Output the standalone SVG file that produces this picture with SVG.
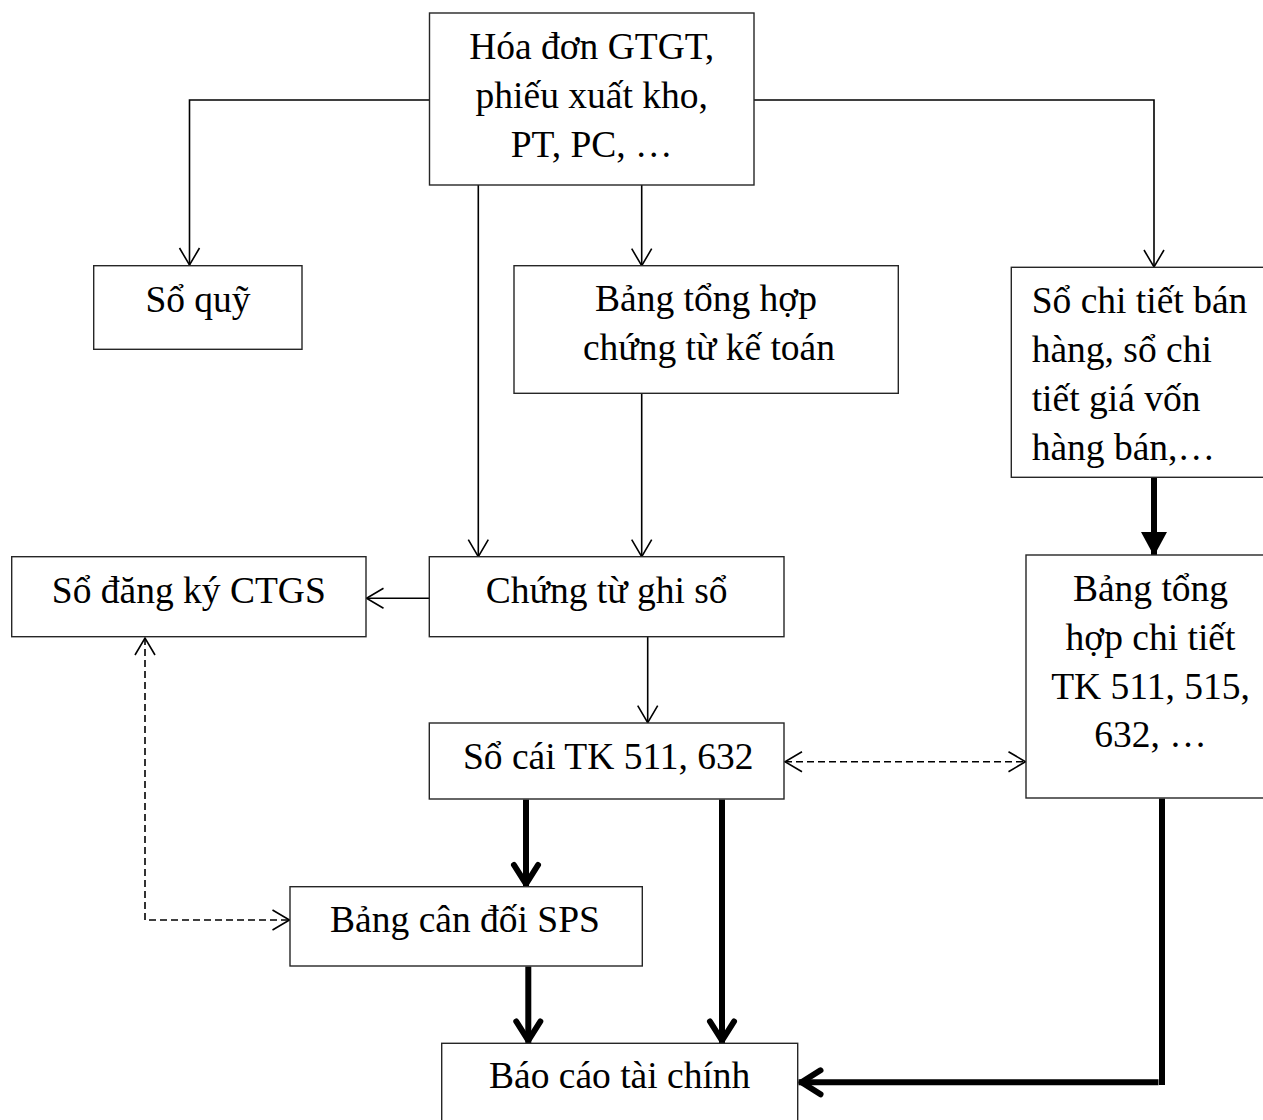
<svg xmlns="http://www.w3.org/2000/svg" width="1263" height="1120" viewBox="0 0 1263 1120">
  <style>
    .box { fill: #ffffff; stroke: #262626; stroke-width: 1.4; }
    .t { font-family: "Liberation Serif", "Times New Roman", serif; font-size: 37.5px; fill: #000000; }
    .c { text-anchor: middle; }
    .thin { fill: none; stroke: #000000; stroke-width: 1.6; }
    .dash { fill: none; stroke: #000000; stroke-width: 1.6; stroke-dasharray: 7 4; }
    .thick { fill: none; stroke: #000000; stroke-width: 6; }
  </style>
  <defs>
    <marker id="open" markerUnits="userSpaceOnUse" markerWidth="24" markerHeight="24" viewBox="-20 -12 24 24" refX="0" refY="0" orient="auto-start-reverse">
      <path d="M-17,-10 L0,0 L-17,10" fill="none" stroke="#000000" stroke-width="1.6"/>
    </marker>
    <marker id="bold" markerUnits="userSpaceOnUse" markerWidth="40" markerHeight="40" viewBox="-30 -20 40 40" refX="0" refY="0" orient="auto">
      <path d="M-22,-12 L-3,0 L-22,12" fill="none" stroke="#000000" stroke-width="6" stroke-linecap="round" stroke-linejoin="round"/>
    </marker>
    <marker id="solid" markerUnits="userSpaceOnUse" markerWidth="40" markerHeight="40" viewBox="-30 -20 40 40" refX="0" refY="0" orient="auto">
      <path d="M-24,-13 L0,0 L-24,13 Z" fill="#000000" stroke="none"/>
    </marker>
  </defs>

  <!-- connectors -->
  <g id="connectors">
    <path class="thin" d="M429.5,100 H189.5 V265" marker-end="url(#open)"/>
    <path class="thin" d="M754,100 H1154 V267" marker-end="url(#open)"/>
    <path class="thin" d="M478.3,185 V556.7" marker-end="url(#open)"/>
    <path class="thin" d="M641.7,185 V265.7" marker-end="url(#open)"/>
    <path class="thin" d="M641.7,393.3 V556.7" marker-end="url(#open)"/>
    <path class="thin" d="M429.3,598.3 H366.5" marker-end="url(#open)"/>
    <path class="thin" d="M647.7,636.7 V722.7" marker-end="url(#open)"/>
    <path class="dash" d="M785,761.7 H1025.5" marker-start="url(#open)" marker-end="url(#open)"/>
    <path class="dash" d="M145,638 V920 H289.5" marker-start="url(#open)" marker-end="url(#open)"/>
    <path class="thick" d="M1154,477.5 V556" marker-end="url(#solid)"/>
    <path class="thick" d="M526,799.5 V887" marker-end="url(#bold)"/>
    <path class="thick" d="M528.3,966.5 V1043.5" marker-end="url(#bold)"/>
    <path class="thick" d="M722,799.5 V1043.5" marker-end="url(#bold)"/>
    <path class="thick" d="M1162,798.5 V1085"/>
    <path class="thick" d="M1158.5,1082.3 H798.5" marker-end="url(#bold)"/>
  </g>

  <!-- nodes -->
  <g id="chung-tu-goc">
    <rect class="box" x="429.5" y="13" width="324.5" height="172"/>
    <text class="t c" x="591.7" y="59">Hóa đơn GTGT,</text>
    <text class="t c" x="591.7" y="108">phiếu xuất kho,</text>
    <text class="t c" x="591.7" y="157">PT, PC, …</text>
  </g>
  <g id="so-quy">
    <rect class="box" x="93.7" y="265.7" width="208.3" height="83.6"/>
    <text class="t c" x="198" y="311.7">Sổ quỹ</text>
  </g>
  <g id="bang-tong-hop-chung-tu">
    <rect class="box" x="514" y="265.7" width="384.3" height="127.6"/>
    <text class="t c" x="706" y="310.7">Bảng tổng hợp</text>
    <text class="t c" x="709" y="360">chứng từ kế toán</text>
  </g>
  <g id="so-chi-tiet">
    <rect class="box" x="1011.3" y="267.3" width="270" height="210"/>
    <text class="t" x="1031.7" y="313">Sổ chi tiết bán</text>
    <text class="t" x="1031.7" y="362">hàng, sổ chi</text>
    <text class="t" x="1031.7" y="411">tiết giá vốn</text>
    <text class="t" x="1031.7" y="460">hàng bán,…</text>
  </g>
  <g id="so-dang-ky-ctgs">
    <rect class="box" x="11.7" y="556.7" width="354.3" height="80"/>
    <text class="t c" x="188.8" y="602.7">Sổ đăng ký CTGS</text>
  </g>
  <g id="chung-tu-ghi-so">
    <rect class="box" x="429.3" y="556.7" width="354.7" height="80"/>
    <text class="t c" x="606.7" y="602.7">Chứng từ ghi sổ</text>
  </g>
  <g id="bang-tong-hop-chi-tiet">
    <rect class="box" x="1026" y="555" width="260" height="243"/>
    <text class="t c" x="1150.5" y="601">Bảng tổng</text>
    <text class="t c" x="1150.5" y="650">hợp chi tiết</text>
    <text class="t c" x="1150.5" y="699">TK 511, 515,</text>
    <text class="t c" x="1150.5" y="747">632, …</text>
  </g>
  <g id="so-cai">
    <rect class="box" x="429.3" y="723" width="354.7" height="76"/>
    <text class="t c" x="608.3" y="769.3">Sổ cái TK 511, 632</text>
  </g>
  <g id="bang-can-doi-sps">
    <rect class="box" x="290" y="886.7" width="352.3" height="79.3"/>
    <text class="t c" x="465" y="931.7">Bảng cân đối SPS</text>
  </g>
  <g id="bao-cao-tai-chinh">
    <rect class="box" x="441.7" y="1043.3" width="356" height="100"/>
    <text class="t c" x="619.7" y="1088.3">Báo cáo tài chính</text>
  </g>
</svg>
